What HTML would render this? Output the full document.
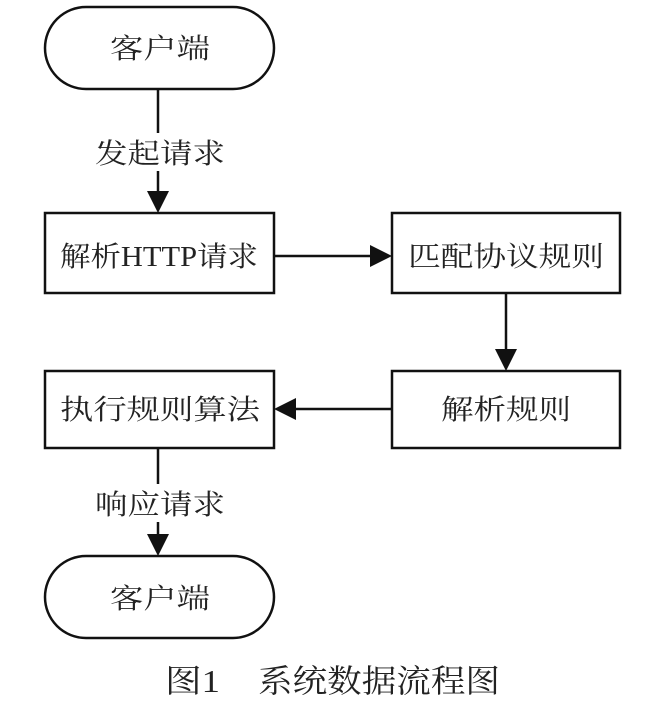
<!DOCTYPE html>
<html><head><meta charset="utf-8"><style>
html,body{margin:0;padding:0;background:#fff;}
svg{display:block;}
text{font-family:"Liberation Serif","Noto Serif CJK SC",serif;fill:#222;}
</style></head><body>
<svg width="646" height="712" viewBox="0 0 646 712" xmlns="http://www.w3.org/2000/svg">
<g stroke="#111" stroke-width="2.5" fill="none">
<rect x="45" y="7" width="229" height="82" rx="41" ry="41"/>
<rect x="45" y="213" width="229" height="80"/>
<rect x="392" y="213" width="228" height="80"/>
<rect x="45" y="371" width="229" height="77"/>
<rect x="392" y="371" width="228" height="77"/>
<rect x="45" y="556" width="229" height="82" rx="41" ry="41"/>
<line x1="158" y1="89" x2="158" y2="133"/>
<line x1="158" y1="171" x2="158" y2="195"/>
<line x1="274" y1="256" x2="374" y2="256"/>
<line x1="506" y1="293" x2="506" y2="353"/>
<line x1="392" y1="409" x2="292" y2="409"/>
<line x1="158" y1="448" x2="158" y2="484"/>
<line x1="158" y1="522" x2="158" y2="538"/>
</g>
<g fill="#111">
<polygon points="147,191 169,191 158,213"/>
<polygon points="370,245 370,267 392,256"/>
<polygon points="495,349 517,349 506,371"/>
<polygon points="296,398 296,420 274,409"/>
<polygon points="147,534 169,534 158,556"/>
</g>
<g font-size="28" text-anchor="start">
<text x="110" y="58" textLength="100" lengthAdjust="spacingAndGlyphs">客户端</text>
<text x="95" y="163" textLength="130" lengthAdjust="spacingAndGlyphs">发起请求</text>
<text x="60" y="266" textLength="198" lengthAdjust="spacingAndGlyphs">解析HTTP请求</text>
<text x="408" y="266" textLength="196" lengthAdjust="spacingAndGlyphs">匹配协议规则</text>
<text x="60" y="419" textLength="200" lengthAdjust="spacingAndGlyphs">执行规则算法</text>
<text x="441" y="419" textLength="130" lengthAdjust="spacingAndGlyphs">解析规则</text>
<text x="95" y="514" textLength="130" lengthAdjust="spacingAndGlyphs">响应请求</text>
<text x="110" y="608" textLength="100" lengthAdjust="spacingAndGlyphs">客户端</text>
<text x="165" y="692" font-size="32" textLength="55" lengthAdjust="spacingAndGlyphs">图1</text>
<text x="258" y="692" font-size="32" textLength="242" lengthAdjust="spacingAndGlyphs">系统数据流程图</text>
</g>
</svg>
</body></html>
